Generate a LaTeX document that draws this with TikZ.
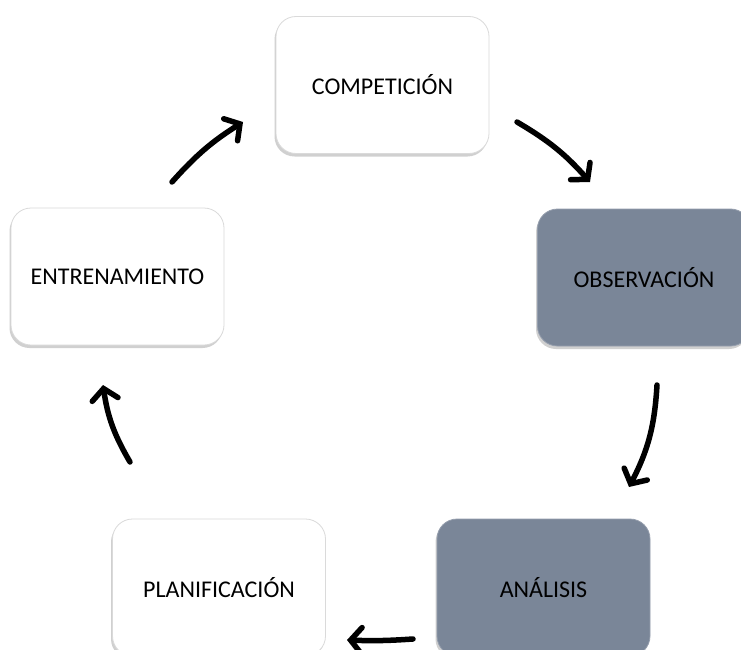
\documentclass[tikz,border=0pt]{standalone}
\usepackage{fontspec}
\setmainfont{Carlito}
\usetikzlibrary{arrows.meta,shadows}
\definecolor{boxgray}{HTML}{7A8698}
\definecolor{edgegray}{HTML}{DADADA}
\tikzset{
  stagebox/.style={rounded corners=20pt, minimum width=213pt, minimum height=137pt,
    font=\fontsize{24}{28}\selectfont, text=black, inner sep=0pt,
    drop shadow={shadow xshift=-1.5pt, shadow yshift=-3pt, opacity=.3, fill=black!60}},
  lightbox/.style={stagebox, fill=white, draw=edgegray, line width=0.8pt},
  darkbox/.style={stagebox, fill=boxgray, draw=boxgray!80!white, line width=0.8pt},
  cyclearrow/.style={line width=5.5pt, line cap=round, line join=round,
    -{Straight Barb[length=11pt,width=26pt,line cap=round]}}
}
\begin{document}
\begin{tikzpicture}[x=1pt,y=-1pt]
\useasboundingbox (0,0) rectangle (741,650);
\clip (0,0) rectangle (741,650);
\fill[white] (0,0) rectangle (741,650);
\node[lightbox] (comp) at (382.5,85) {COMPETICIÓN};
\node[darkbox] (obs) at (644,277.5) {OBSERVACIÓN};
\node[darkbox] (ana) at (543.5,587.5) {ANÁLISIS};
\node[lightbox] (plan) at (219,587.5) {PLANIFICACIÓN};
\node[lightbox] (ent) at (117.5,276.5) {ENTRENAMIENTO};
\coordinate (a1s) at (172,182);
\coordinate (a1e) at (243,122);
\coordinate (a2s) at (517,122);
\coordinate (a2e) at (590,182);
\coordinate (a3s) at (657,385);
\coordinate (a3e) at (629,487);
\coordinate (a4s) at (413,639);
\coordinate (a4e) at (347,640);
\coordinate (a5s) at (130,462);
\coordinate (a5e) at (103,385);
\draw[cyclearrow] (a1s) to[bend left=8] (a1e);
\draw[cyclearrow] (a2s) to[bend left=9] (a2e);
\draw[cyclearrow] (a3s) to[bend left=12] (a3e);
\draw[cyclearrow] (a4s) to[bend left=3] (a4e);
\draw[cyclearrow] (a5s) to[bend left=11] (a5e);
\end{tikzpicture}
\end{document}
